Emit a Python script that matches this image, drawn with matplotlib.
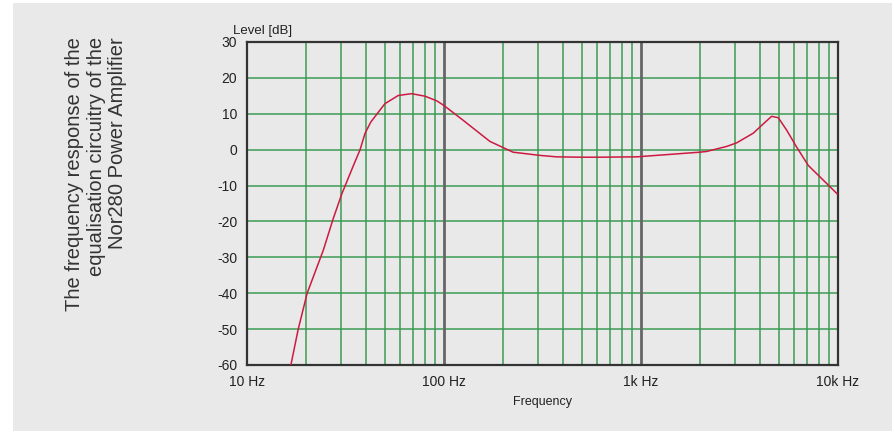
import numpy as np
import matplotlib
matplotlib.use("Agg")
import matplotlib.pyplot as plt
from matplotlib.patches import Rectangle

plt.rcParams['font.family'] = ['Liberation Sans', 'DejaVu Sans']
plt.rcParams['axes.unicode_minus'] = False

# 頻率響應 (讀圖估計)
freq = [16.7, 18.2, 20.2, 24.4, 27.4, 30.3, 34.7, 37.5, 39.7, 42.5, 50.1, 58.6, 68.5,
        80.1, 91.9, 98.7, 105, 125, 171, 224, 307, 373, 500, 620, 950, 1990, 2153,
        2721, 3060, 3715, 4178, 4605, 4977, 5494, 6170, 7066, 8104, 9900]
level = [-60, -50, -40, -28, -19.2, -12.3, -4.4, 0.0, 4.5, 7.7, 12.8, 15.1, 15.6,
         14.9, 13.6, 12.5, 11.4, 8.2, 2.3, -0.7, -1.6, -2.0, -2.1, -2.1, -2.0, -0.7, -0.5,
         0.9, 1.9, 4.6, 7.2, 9.3, 8.9, 5.4, 0.7, -4.4, -7.6, -12.3]

y_ticks = [30, 20, 10, 0, -10, -20, -30, -40, -50, -60]
x_ticks = [10, 100, 1000, 10000]
x_labels = ["10 Hz", "100 Hz", "1k Hz", "10k Hz"]
title = "The frequency response of the\nequalisation circuitry of the\nNor280 Power Amplifier"

fig = plt.figure(figsize=(8.94, 4.34), dpi=100)
fig.patch.set_facecolor("white")
fig.patches.append(Rectangle((13/894, 1-431/434), 879/894, 428/434,
                             transform=fig.transFigure, facecolor="#e9e9e9",
                             edgecolor="none", zorder=-5))

ax = fig.add_axes([247/894, 1-365/434, 591/894, 323/434])
ax.set_facecolor("#e9e9e9")
ax.set_xscale("log")
ax.set_xlim(10, 10000)
ax.set_ylim(-60, 30)

green = "#3c9c55"
# 格線
for dec in [10, 100, 1000]:
    for m in range(2, 10):
        ax.axvline(dec*m, color=green, lw=1.1, zorder=1)
for v in y_ticks[1:-1]:
    ax.axhline(v, color=green, lw=1.1, zorder=1)
for v in [100, 1000]:
    ax.axvline(v, color="#666666", lw=2, zorder=2)

ax.plot(freq, level, color="#cc1a40", lw=1.1, zorder=3)

for s in ax.spines.values():
    s.set_color("#333333")
    s.set_linewidth(1.6)

ax.set_yticks(y_ticks)
ax.set_xticks(x_ticks)
ax.set_xticklabels(x_labels)
ax.minorticks_off()
ax.tick_params(length=0, labelsize=10, pad=7, colors="#222222")
ax.set_xlabel("Frequency", fontsize=9, color="#222222", labelpad=5)

fig.text(233/894, 1-31/434, "Level [dB]", fontsize=9.5, color="#222222", va="center")
fig.text(96/894, 1-37/434, title, rotation=90, fontsize=14.5, color="#333333",
         ha="center", va="top", multialignment="right", linespacing=1.15)

fig.savefig("out.png", dpi=100, facecolor=fig.get_facecolor())
